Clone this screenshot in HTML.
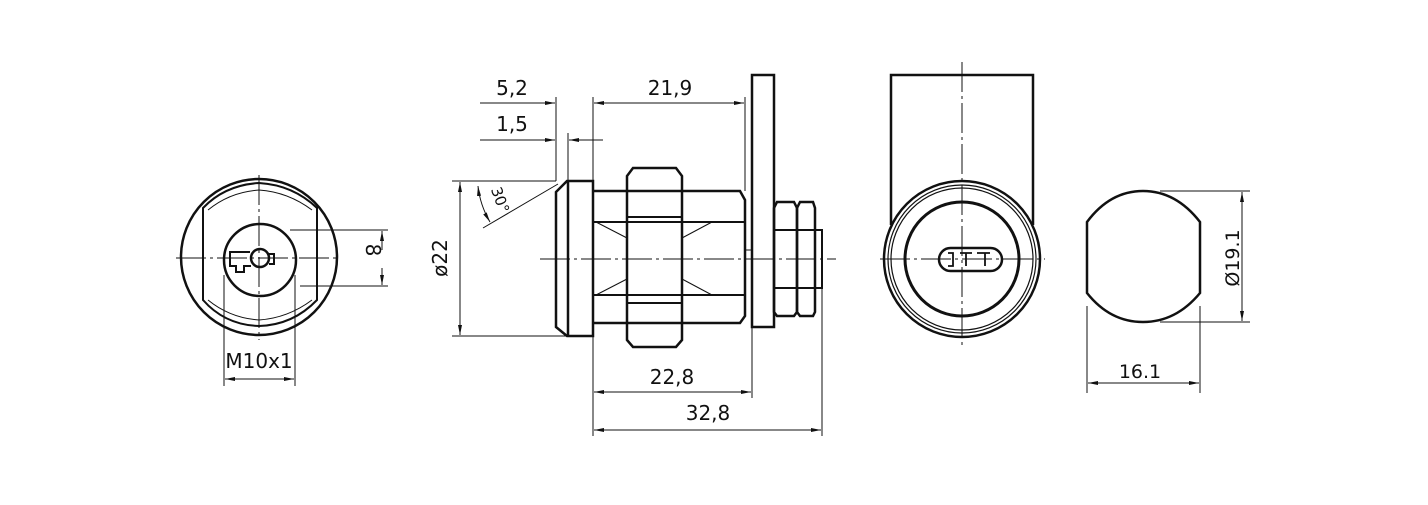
<!DOCTYPE html>
<html><head><style>html,body{margin:0;padding:0;background:#fff}</style></head><body>
<svg width="1428" height="500" viewBox="0 0 1428 500" xmlns="http://www.w3.org/2000/svg" font-family="DejaVu Sans, Liberation Sans, sans-serif" font-size="20" fill="none" stroke="#111">
<defs>
<marker id="a" viewBox="0 0 10 6" refX="10" refY="3" markerWidth="10" markerHeight="6" orient="auto-start-reverse" markerUnits="userSpaceOnUse"><path d="M0,1 L10,3 L0,5z" fill="#111" stroke="none"/></marker>
</defs>
<rect x="0" y="0" width="1428" height="500" fill="#fff" stroke="none"/>
<!-- LEFT FRONT VIEW -->
<g stroke-width="2.5">
<circle cx="259" cy="257" r="78"/>
<path d="M203,228 L203,208 Q225,185 259,183 Q293,185 317,208 L317,300 Q293,325 259,326 Q225,325 203,300 Z" stroke-width="2"/>
<path d="M208,210 Q230,192 259,190 Q288,192 312,210 M208,300 Q230,318 259,320 Q288,318 312,300" stroke-width="1"/>
<circle cx="260" cy="260" r="36"/>
<circle cx="260" cy="258" r="9"/>
<path d="M250,252 L230,252 L230,266 L236,266 L236,272 L244,272 L244,266 L251,266" stroke-width="2"/>
<path d="M268,254 L274,254 L274,264 L269,264" stroke-width="2"/>
</g>
<g stroke-width="1">
<path d="M176,258 L340,258 M259,175 L259,340" stroke-dasharray="30,4,3,4"/>
<path d="M290,230 L388,230 M300,286 L388,286"/>
<path d="M382,231 L382,250 M382,268 L382,285" marker-start="url(#a)" marker-end="url(#a)"/>
<path d="M224,275 L224,386 M295,275 L295,386"/>
<line x1="225" y1="379" x2="294" y2="379" marker-start="url(#a)" marker-end="url(#a)"/>
</g>
<text x="358" y="258" transform="rotate(90 366 258)" fill="#111" stroke="none" text-anchor="middle">8</text>
<text x="259" y="368" fill="#111" stroke="none" text-anchor="middle">M10x1</text>

<!-- SIDE VIEW -->
<g stroke-width="2.5">
<path d="M567,181 L593,181 L593,336 L567,336 L556,327 L556,192 Z"/>
<line x1="568" y1="182" x2="568" y2="335"/>
<path d="M593,191 L740,191 L745,200 L745,316 L740,323 L593,323"/>
<path d="M593,222 L745,222 M593,295 L745,295" stroke-width="2"/>
<path d="M633,168 L676,168 L682,176 L682,340 L676,347 L633,347 L627,340 L627,176 Z"/>
<path d="M627,217 L682,217 M627,303 L682,303" stroke-width="2"/>
<rect x="752" y="75" width="22" height="252"/>
<line x1="745" y1="250" x2="752" y2="250" stroke-width="1"/>
<path d="M777,202 L794,202 L797,208 L797,312 L794,316 L777,316 L774,312 L774,208 Z"/>
<path d="M800,202 L813,202 L815,208 L815,312 L813,316 L800,316 L797,312 L797,208 Z"/>
<path d="M774,230 L815,230 M774,288 L815,288" stroke-width="2"/>
<rect x="815" y="230" width="7" height="58" stroke-width="2"/>
</g>
<g stroke-width="1">
<path d="M596,222 L627,238 M596,295 L627,279 M682,238 L712,222 M682,279 L712,295"/>
<path d="M540,259 L836,259" stroke-dasharray="30,4,3,4"/>
<path d="M556,97 L556,181 M593,97 L593,191 M568,133 L568,181 M745,97 L745,191"/>
<line x1="480" y1="103" x2="555" y2="103" marker-end="url(#a)"/>
<line x1="594" y1="103" x2="744" y2="103" marker-start="url(#a)" marker-end="url(#a)"/>
<line x1="480" y1="140" x2="555" y2="140" marker-end="url(#a)"/>
<line x1="603" y1="140" x2="569" y2="140" marker-end="url(#a)"/>
<path d="M452,181 L556,181 M452,336 L567,336"/>
<line x1="460" y1="182" x2="460" y2="335" marker-start="url(#a)" marker-end="url(#a)"/>
<path d="M483,228 L558,184"/>
<path d="M478,186 Q480,205 490,222" marker-start="url(#a)" marker-end="url(#a)"/>
<path d="M593,336 L593,436 M752,327 L752,398 M822,288 L822,436"/>
<line x1="594" y1="392" x2="751" y2="392" marker-start="url(#a)" marker-end="url(#a)"/>
<line x1="594" y1="430" x2="821" y2="430" marker-start="url(#a)" marker-end="url(#a)"/>
</g>
<g fill="#111" stroke="none" text-anchor="middle">
<text x="512" y="95">5,2</text>
<text x="512" y="131">1,5</text>
<text x="670" y="95">21,9</text>
<text x="672" y="384">22,8</text>
<text x="708" y="420">32,8</text>
<text x="440" y="265" transform="rotate(-90 440 258)">ø22</text>
<text x="500" y="205" font-size="15" transform="rotate(70 500 200)">30°</text>
<text x="1140" y="378" font-size="19">16.1</text>
<text x="1232" y="265" font-size="19" transform="rotate(-90 1232 258)">Ø19.1</text>
</g>

<!-- RIGHT VIEW 1 -->
<g stroke-width="2.5">
<path d="M891,225 L891,75 L1033,75 L1033,225"/>
<circle cx="962" cy="259" r="78" fill="#fff"/>
<circle cx="962" cy="259" r="74" stroke-width="1.2"/>
<circle cx="962" cy="259" r="71" stroke-width="1.2"/>
<circle cx="962" cy="259" r="57" stroke-width="3"/>
<rect x="939" y="248" width="63" height="23" rx="11.5"/>
<path d="M948,253 L953,253 L953,266 L948,266 M960,253 L972,253 M966,253 L966,266 M977,253 L990,253 M985,253 L985,266" stroke-width="1.8"/>
</g>
<g stroke-width="1">
<path d="M962,62 L962,345" stroke-dasharray="30,4,3,4"/>
<path d="M880,259 L1045,259" stroke-dasharray="30,4,3,4"/>
</g>

<!-- RIGHT VIEW 2 -->
<path d="M1087,222 Q1110,191 1143,191 Q1176,191 1200,222 L1200,293 Q1176,322 1143,322 Q1110,322 1087,293 Z" stroke-width="2.5"/>
<g stroke-width="1">
<path d="M1160,191 L1250,191 M1160,322 L1250,322 M1087,306 L1087,393 M1200,306 L1200,393"/>
<line x1="1242" y1="192" x2="1242" y2="321" marker-start="url(#a)" marker-end="url(#a)"/>
<line x1="1088" y1="383" x2="1199" y2="383" marker-start="url(#a)" marker-end="url(#a)"/>
</g>
</svg>
</body></html>
